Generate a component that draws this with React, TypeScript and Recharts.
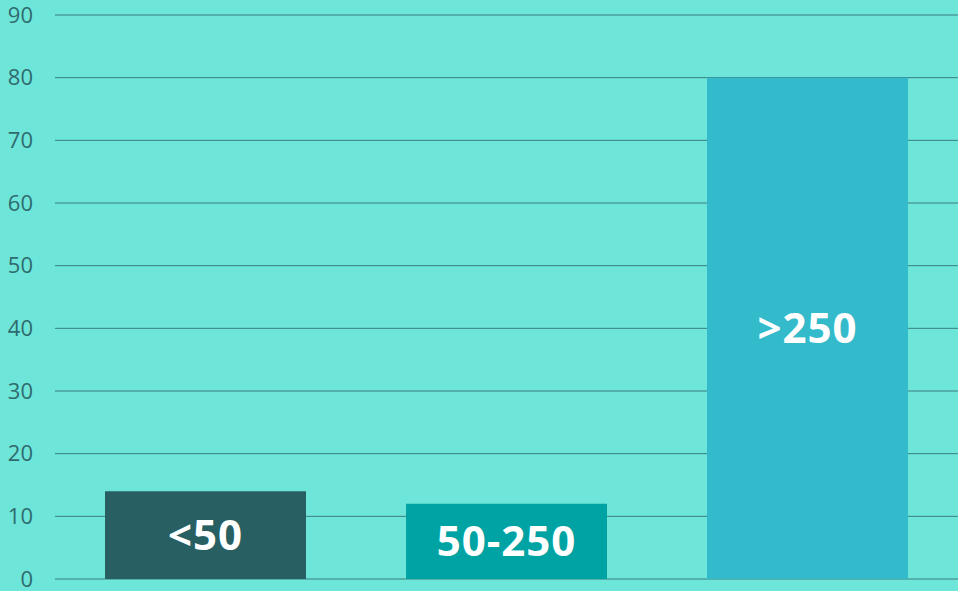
import { BarChart, Bar, XAxis, YAxis, CartesianGrid, Cell, LabelList } from 'recharts';

const categories = ['<50', '50-250', '>250'];
const values = [14, 12, 80];
const barColors = ['#285F63', '#00A3A3', '#33BBCB'];
const yTicks = [0, 10, 20, 30, 40, 50, 60, 70, 80, 90];

const chartData = categories.map((name, i) => ({ name, value: values[i] }));

export default function App() {
  return (
    <div style={{ position: 'fixed', left: 0, top: 0, width: 958, height: 591, background: '#6EE5D9' }}>
      <BarChart
        width={958}
        height={591}
        data={chartData}
        margin={{ top: 15, right: 0, bottom: 12, left: 0 }}
        barCategoryGap={50}
      >
        <CartesianGrid vertical={false} stroke="#3A7D7F" strokeWidth={1} />
        <XAxis dataKey="name" hide />
        <YAxis
          width={55}
          domain={[0, 90]}
          ticks={yTicks}
          axisLine={false}
          tickLine={false}
          tickSize={0}
          tickMargin={22}
          interval={0}
          tick={{ fontSize: 22, fill: '#2F6B6E', fontFamily: 'Open Sans' }}
        />
        <Bar dataKey="value" isAnimationActive={false}>
          {chartData.map((d, i) => (
            <Cell key={d.name} fill={barColors[i]} />
          ))}
          <LabelList
            dataKey="name"
            position="center"
            fill="#FFFFFF"
            style={{ fontSize: 42, fontWeight: 700, fontFamily: 'Open Sans', letterSpacing: 1 }}
          />
        </Bar>
      </BarChart>
    </div>
  );
}
